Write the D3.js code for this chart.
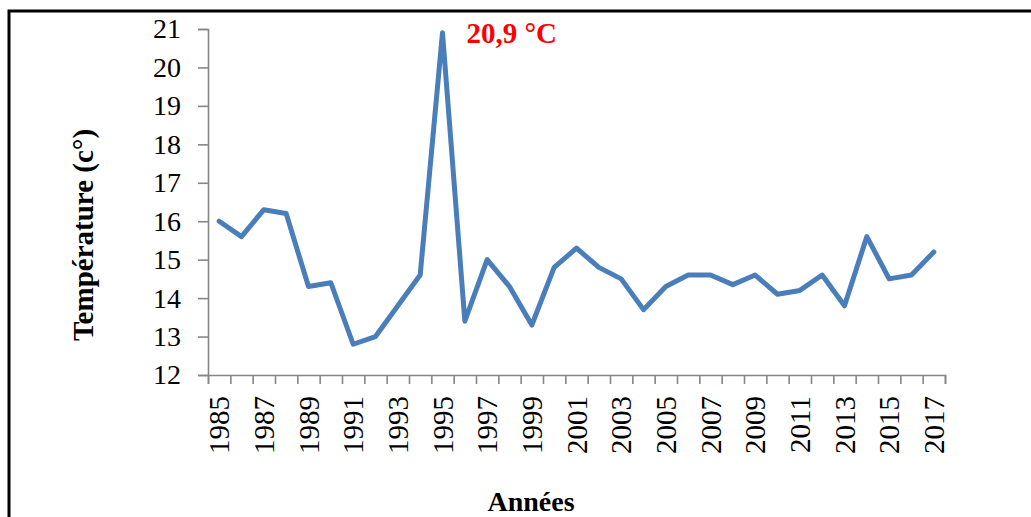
<!DOCTYPE html>
<html>
<head>
<meta charset="utf-8">
<script src="https://cdn.jsdelivr.net/npm/d3@7/dist/d3.min.js"></script>
<style>
  html, body { margin: 0; padding: 0; background: #fff; }
  svg { display: block; }
  text { font-family: "Liberation Serif", "Times New Roman", serif; }
</style>
</head>
<body>
<svg id="chart" width="1031" height="517"></svg>
<script>
// Mean annual temperature, 1985–2017
const years = d3.range(1985, 2018);
const temperatures = [
  16.0, 15.6, 16.3, 16.2, 14.3, 14.4, 12.8, 13.0, 13.8, 14.6,
  20.9, 13.4, 15.0, 14.3, 13.3, 14.8, 15.3, 14.8, 14.5, 13.7,
  14.3, 14.6, 14.6, 14.35, 14.6, 14.1, 14.2, 14.6, 13.8, 15.6,
  14.5, 14.6, 15.2
];
const yTicks = [12, 13, 14, 15, 16, 17, 18, 19, 20, 21];
const peakLabel = "20,9 °C";
const peakYear = 1995;
const yTitle = "Température (c°)";
const xTitle = "Années";

const svg = d3.select("#chart");

// Frame around the chart area
svg.append("rect")
  .attr("x", 9).attr("y", 11)
  .attr("width", 1100).attr("height", 600)
  .attr("fill", "none").attr("stroke", "#000").attr("stroke-width", 3);

const plot = { left: 208, right: 945, top: 29, bottom: 375 };

const x = d3.scaleBand().domain(years).range([plot.left, plot.right]).padding(0);
const xEdge = d3.scaleLinear().domain([0, years.length]).range([plot.left, plot.right]);
const y = d3.scaleLinear().domain([12, 21]).range([plot.bottom, plot.top]);

const axisColor = "#868686";

// Y axis
const gy = svg.append("g")
  .attr("transform", `translate(${plot.left},0)`)
  .call(d3.axisLeft(y).tickValues(yTicks).tickSize(10).tickPadding(17).tickFormat(d3.format("d")));
gy.select(".domain").attr("stroke", axisColor).attr("stroke-width", 1.6);
gy.selectAll(".tick line").attr("stroke", axisColor).attr("stroke-width", 1.6);
gy.selectAll(".tick text")
  .attr("font-family", "Liberation Serif")
  .attr("font-size", 28)
  .attr("fill", "#000");

// X axis: tick marks on category boundaries
const gxTicks = svg.append("g")
  .attr("transform", `translate(0,${plot.bottom})`)
  .call(d3.axisBottom(xEdge).tickValues(d3.range(0, years.length + 1)).tickSize(9).tickFormat(""));
gxTicks.select(".domain").attr("stroke", axisColor).attr("stroke-width", 1.6);
gxTicks.selectAll(".tick line").attr("stroke", axisColor).attr("stroke-width", 1.6);

// X axis: rotated year labels at category centres, every other year
const gxLabels = svg.append("g")
  .attr("transform", `translate(0,${plot.bottom})`)
  .call(d3.axisBottom(x)
    .tickValues(years.filter((d, i) => i % 2 === 0))
    .tickSize(0).tickPadding(0).tickFormat(d => String(d)));
gxLabels.select(".domain").remove();
gxLabels.selectAll(".tick text")
  .attr("font-family", "Liberation Serif")
  .attr("font-size", 29)
  .attr("fill", "#000")
  .attr("text-anchor", "end")
  .attr("dy", null)
  .attr("y", 0)
  .attr("transform", "translate(10,21) rotate(-90)");

// Temperature line
const line = d3.line()
  .x((d, i) => x(years[i]) + x.bandwidth() / 2)
  .y(d => y(d));

svg.append("path")
  .datum(temperatures)
  .attr("d", line)
  .attr("fill", "none")
  .attr("stroke", "#4a7ebb")
  .attr("stroke-width", 5)
  .attr("stroke-linejoin", "round")
  .attr("stroke-linecap", "round");

// Peak annotation
const peakIdx = years.indexOf(peakYear);
svg.append("text")
  .attr("x", x(peakYear) + x.bandwidth() / 2 + 24)
  .attr("y", y(temperatures[peakIdx]) + 10)
  .attr("font-size", 29)
  .attr("font-weight", "bold")
  .attr("fill", "#ff0000")
  .text(peakLabel);

// Axis titles
svg.append("text")
  .attr("transform", `translate(93,235) rotate(-90)`)
  .attr("text-anchor", "middle")
  .attr("font-size", 29)
  .attr("font-weight", "bold")
  .attr("fill", "#000")
  .text(yTitle);

svg.append("text")
  .attr("x", 531).attr("y", 511)
  .attr("text-anchor", "middle")
  .attr("font-size", 28)
  .attr("font-weight", "bold")
  .attr("fill", "#000")
  .text(xTitle);
</script>
</body>
</html>
